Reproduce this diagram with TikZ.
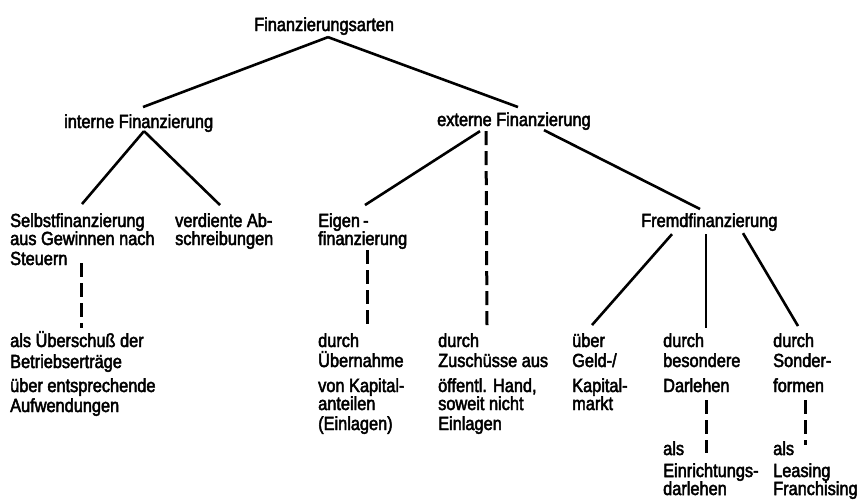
\documentclass[tikz,border=0pt]{standalone}
\usepackage{fontspec}
\setmainfont{Liberation Sans}[FakeStretch=0.86,FakeBold=2.5]
\begin{document}
\begin{tikzpicture}[x=1pt,y=-1pt,
  txt/.style={anchor=base west,inner sep=0pt,align=left,
    font=\fontsize{19}{20}\selectfont},
  link/.style={line width=2.6pt},
  dlink/.style={line width=3pt,dash pattern=on 14pt off 6pt}]
\useasboundingbox (0,0) rectangle (861,499);

% level 0 and 1 (placed at their baselines)
\node[txt] (root) at (254,31) {Finanzierungsarten};
\node[txt] (int) at (64,128) {interne Finanzierung};
\node[txt] (ext) at (437,126) {externe Finanzierung};

% level 2 (multi-line nodes placed at the baseline of their last line)
\node[txt] (self) at (10,265) {Selbstfinanzierung\\[-2pt]aus Gewinnen nach\\Steuern};
\node[txt] (verd) at (175,245) {verdiente Ab-\\[-2pt]schreibungen};
\node[txt] (eigen) at (318,245) {Eigen\,-\\[-2pt]finanzierung};
\node[txt] (fremd) at (641,227) {Fremdfinanzierung};

% level 3
\node[txt] (ueb) at (10,412) {als Überschuß der\\[1pt]Betriebserträge\\[4pt]über entsprechende\\Aufwendungen};
\node[txt] (durch) at (318,430) {durch\\Übernahme\\[5pt]von Kapital-\\[-2pt]anteilen\\(Einlagen)};
\node[txt] (zus) at (438,430) {durch\\Zuschüsse aus\\[5pt]öffentl. Hand,\\[-2pt]soweit nicht\\Einlagen};
\node[txt] (geld) at (572,410) {über\\Geld-/\\[5pt]Kapital-\\[-2pt]markt};
\node[txt] (dar) at (663,392) {durch\\besondere\\[5pt]Darlehen};
\node[txt] (sond) at (773,392) {durch\\Sonder-\\[5pt]formen};

% level 4
\node[txt] (als1) at (663,495) {als\\[2pt]Einrichtungs-\\[-2pt]darlehen};
\node[txt] (als2) at (773,495) {als\\[2pt]Leasing\\[-2pt]Franchising};

% solid connectors
\draw[link] ([xshift=74pt,yshift=-2pt]root.south west) -- ([xshift=79pt,yshift=7pt]int.north west);
\draw[link] ([xshift=74pt,yshift=-2pt]root.south west) -- ([xshift=81pt,yshift=5pt]ext.north west);
\draw[link] ([xshift=80pt,yshift=1pt]int.south west) -- ([xshift=72pt,yshift=9pt]self.north west);
\draw[link] ([xshift=80pt,yshift=1pt]int.south west) -- ([xshift=45pt,yshift=8pt]verd.north west);
\draw[link] ([xshift=43pt,yshift=-1pt]ext.south west) -- ([xshift=47pt,yshift=8pt]eigen.north west);
\draw[link] ([xshift=107pt]ext.south west) -- ([xshift=59pt,yshift=4pt]fremd.north west);
\draw[link] ([xshift=31pt,yshift=-3pt]fremd.south west) -- ([xshift=20pt,yshift=8pt]geld.north west);
\draw[link] ([xshift=65pt,yshift=-3pt]fremd.south west) -- ([xshift=43pt,yshift=5pt]dar.north west);
\draw[link] ([xshift=102pt,yshift=-2pt]fremd.south west) -- ([xshift=25pt,yshift=7pt]sond.north west);

% dashed connectors
\draw[dlink] ([xshift=49pt,yshift=-1pt]ext.south west) -- ([xshift=49pt,yshift=7pt]zus.north west);
\draw[dlink] ([xshift=71pt,yshift=2pt]self.south west) -- ([xshift=71pt,yshift=3pt]ueb.north west);
\draw[dlink] ([xshift=49pt,yshift=-1pt]eigen.south west) -- ([xshift=49pt,yshift=3pt]durch.north west);
\draw[dlink] ([xshift=43pt,yshift=-8pt]dar.south west) -- ([xshift=43pt,yshift=-12pt]als1.north west);
\draw[dlink] ([xshift=32pt,yshift=-8pt]sond.south west) -- ([xshift=32pt,yshift=-4pt]als2.north west);
\end{tikzpicture}
\end{document}
